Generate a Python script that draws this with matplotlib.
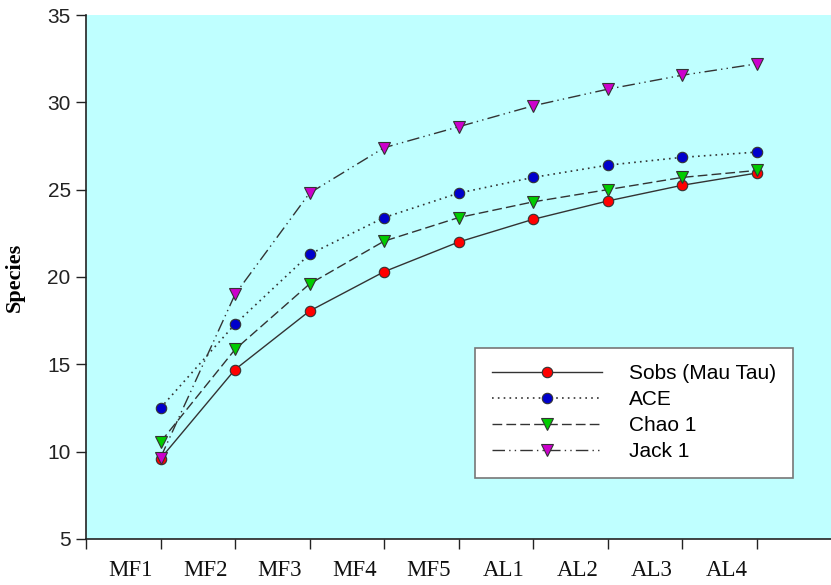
import matplotlib
matplotlib.use("Agg")
import matplotlib.pyplot as plt
import numpy as np

sites = ["MF1", "MF2", "MF3", "MF4", "MF5", "AL1", "AL2", "AL3", "AL4"]
sobs = [9.6, 14.7, 18.05, 20.3, 22.0, 23.3, 24.35, 25.25, 25.95]
ace = [12.5, 17.3, 21.3, 23.4, 24.8, 25.7, 26.4, 26.85, 27.15]
chao1 = [10.55, 15.85, 19.6, 22.05, 23.4, 24.3, 25.0, 25.7, 26.1]
jack1 = [9.65, 19.0, 24.8, 27.4, 28.6, 29.8, 30.75, 31.55, 32.2]
yticks = [5, 10, 15, 20, 25, 30, 35]

fig = plt.figure(figsize=(8.31, 5.85), dpi=100)
ax = fig.add_axes([86/831, 46/585, 745/831, 524/585])
ax.set_facecolor("#BFFFFF")

x = np.arange(1, len(sites) + 1)
lc = "#333333"
ms = 7.5
ax.plot(x, sobs, color=lc, lw=1.0, ls="-", marker="o", ms=ms, mfc="#FF0000", mec="#333333", mew=0.8, label="Sobs (Mau Tau)")
ax.plot(x, ace, color=lc, lw=1.2, ls=(0, (1, 2.5)), marker="o", ms=ms, mfc="#0000CC", mec="#333333", mew=0.8, label="ACE")
ax.plot(x, chao1, color=lc, lw=1.0, ls=(0, (7, 3)), marker="v", ms=ms + 1, mfc="#00CC00", mec="#333333", mew=0.8, label="Chao 1")
ax.plot(x, jack1, color=lc, lw=1.0, ls=(0, (9, 3, 1, 3, 1, 3)), marker="v", ms=ms + 1, mfc="#CC00CC", mec="#333333", mew=0.8, label="Jack 1")

ax.set_xlim(0, 10)
ax.set_ylim(5, 35)
ax.set_yticks(yticks)
ax.set_yticklabels([str(v) for v in yticks], fontfamily="Liberation Sans", fontsize=15, color="#222222")
ax.set_xticks(np.arange(0, 10))
ax.set_xticklabels([])
for i, s in enumerate(sites):
    ax.text(i + 1 - 0.4, -0.06, s, transform=ax.get_xaxis_transform(), ha="center", va="center",
            fontfamily="Liberation Serif", fontsize=16.5, color="#111111")

for sp in ["top", "right"]:
    ax.spines[sp].set_visible(False)
for sp in ["left", "bottom"]:
    ax.spines[sp].set_color("#222222")
    ax.spines[sp].set_linewidth(1.2)
ax.tick_params(axis="both", direction="out", length=7, width=1.0, color="#222222", pad=4)

ax.set_ylabel("Species", fontfamily="Liberation Serif", fontweight="bold", fontsize=16, labelpad=12)
ax.yaxis.set_label_coords(-0.082, 0.5)

leg = ax.legend(loc="upper left", bbox_to_anchor=(0.522, 0.365), prop={"family": "Liberation Sans", "size": 15},
                frameon=True, fancybox=False, edgecolor="#777777", framealpha=1.0, handlelength=5.3,
                borderpad=0.8, labelspacing=0.33, handletextpad=1.3, borderaxespad=0)
leg.get_frame().set_linewidth(1.2)

fig.savefig("out.png", dpi=100)
